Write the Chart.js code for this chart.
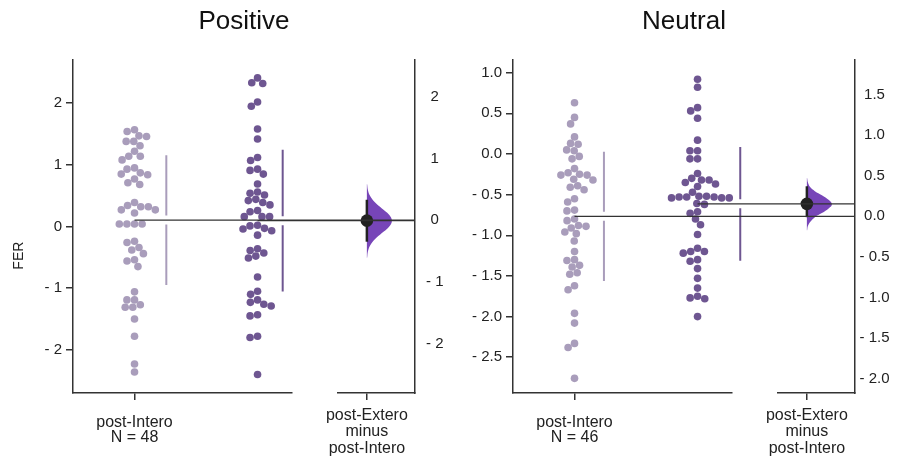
<!DOCTYPE html>
<html>
<head>
<meta charset="utf-8">
<script src="https://cdn.jsdelivr.net/npm/chart.js@4.4.1/dist/chart.umd.min.js"></script>
<style>
  body { margin: 0; background: #fff; }
  #wrap { position: relative; width: 901px; height: 456px; }
  canvas { position: absolute; top: 0; }
</style>
</head>
<body>
<div id="wrap">
  <canvas id="pos" width="450" height="456" style="left:0"></canvas>
  <canvas id="neu" width="451" height="456" style="left:450px"></canvas>
</div>
<script>
// ---- data ----
var groups = ['post-Intero', 'post-Extero'];
var titles = ['Positive', 'Neutral'];
var yTitle = 'FER';

var posIntero = [1.57, 1.54, 1.47, 1.46, 1.38, 1.38, 1.31, 1.22, 1.14, 1.14, 1.08, 0.95, 0.93, 0.87, 0.85, 0.84, 0.77, 0.71, 0.68,
  0.39, 0.34, 0.32, 0.32, 0.27, 0.27, 0.22, 0.04, 0.04, 0.04, 0.04,
  -0.24, -0.26, -0.34, -0.38, -0.44, -0.54, -0.56, -0.65,
  -1.06, -1.19, -1.19, -1.27, -1.31, -1.31, -1.50, -1.78, -2.23, -2.36];
var posExtero = [2.41, 2.33, 2.32, 2.02, 1.95, 1.58, 1.42, 1.12, 1.07, 0.93, 0.91, 0.85, 0.69,
  0.56, 0.54, 0.51, 0.44, 0.42, 0.39, 0.35, 0.26, 0.24, 0.16, 0.16, 0.16,
  0.02, 0.01, -0.03, -0.04, -0.07, -0.14,
  -0.36, -0.39, -0.43, -0.48, -0.51, -0.82,
  -1.05, -1.10, -1.19, -1.23, -1.26, -1.29, -1.43, -1.45, -1.78, -1.80, -2.40];
var neuIntero = [0.63, 0.45, 0.37, 0.21, 0.13, 0.12, 0.05, 0.04, -0.03, -0.06,
  -0.18, -0.23, -0.25, -0.26, -0.26, -0.31, -0.32, -0.39, -0.41, -0.44,
  -0.55, -0.59, -0.69, -0.70, -0.80, -0.82, -0.88, -0.89, -0.91, -0.96, -0.98, -1.07,
  -1.20, -1.30, -1.31, -1.37, -1.39, -1.46, -1.48, -1.62, -1.67,
  -1.96, -2.08, -2.33, -2.38, -2.76];
var neuExtero = [0.92, 0.82, 0.57, 0.53, 0.44, 0.17, 0.04, 0.04, -0.06, -0.06,
  -0.24, -0.30, -0.32, -0.32, -0.35, -0.37, -0.40, -0.47,
  -0.52, -0.52, -0.53, -0.53, -0.53, -0.54, -0.54, -0.54, -0.61, -0.62,
  -0.71, -0.73, -0.80, -0.87, -0.99,
  -1.16, -1.20, -1.20, -1.22, -1.30, -1.32, -1.41, -1.53, -1.65,
  -1.75, -1.77, -1.78, -2.00];

// axis ranges and tick values
var posRange = [-2.7, 2.7];
var neuRange = [-2.94, 1.156];
var posTicks = [-2, -1, 0, 1, 2];
var posDeltaTicks = [-2, -1, 0, 1, 2];
var neuTicks = [-2.5, -2.0, -1.5, -1.0, -0.5, 0.0, 0.5, 1.0];
var neuDeltaTicks = [-2.0, -1.5, -1.0, -0.5, 0.0, 0.5, 1.0, 1.5];

// bootstrap difference: 95% CI and the half-violin outline (difference, relative density)
var posDeltaCI = [-0.35, 0.33];
var neuDeltaCI = [-0.01, 0.37];
var posViolinY = [-0.61, -0.51, -0.41, -0.31, -0.21, -0.11, -0.01, 0.09, 0.19, 0.29, 0.39, 0.49, 0.58];
var neuViolinY = [-0.17, -0.12, -0.07, -0.01, 0.04, 0.10, 0.15, 0.20, 0.26, 0.31, 0.36, 0.42, 0.47];
var violinDensity = [0.01, 0.04, 0.13, 0.32, 0.60, 0.88, 1.00, 0.88, 0.60, 0.32, 0.13, 0.04, 0.01];

// ---- style ----
Chart.defaults.font.family = "'Liberation Sans', Arial, Helvetica, sans-serif";
Chart.defaults.color = '#222';
var lightCol = '#a99dbb';
var darkCol = '#6e5691';
var violinCol = '#7745b8';
var axisCol = '#333';
var dotR = 3.8;

function mean(a) { return a.reduce(function (s, v) { return s + v; }, 0) / a.length; }
function sd(a) {
  var m = mean(a);
  return Math.sqrt(a.reduce(function (s, v) { return s + (v - m) * (v - m); }, 0) / (a.length - 1));
}
function fmt(v, dec) {
  var t = Math.abs(v).toFixed(dec);
  return v < -1e-9 ? '- ' + t : t;
}

// swarm layout in pixels: each point goes to the free spot closest to the centre line
function beeswarm(py, d) {
  var order = py.map(function (v, i) { return i; }).sort(function (a, b) { return py[a] - py[b]; });
  var placed = [], xs = [];
  order.forEach(function (i) {
    var y = py[i];
    var near = placed.filter(function (p) { return Math.abs(p.y - y) < d; });
    var cands = [0];
    near.forEach(function (p) {
      var dx = Math.sqrt(d * d - (p.y - y) * (p.y - y));
      cands.push(p.x - dx, p.x + dx);
    });
    cands.sort(function (a, b) { return Math.abs(a) - Math.abs(b); });
    var best = 0;
    for (var k = 0; k < cands.length; k++) {
      var c = cands[k];
      var ok = near.every(function (p) { return (p.x - c) * (p.x - c) + (p.y - y) * (p.y - y) >= d * d - 0.01; });
      if (ok) { best = c; break; }
    }
    xs[i] = best;
    placed.push({ x: best, y: y });
  });
  return xs;
}

// keep the boxes exactly where the reference has them
function fixH(s) { s.height = 63; s.paddingLeft = 0; s.paddingRight = 0; }

function makePanel(id, p) {
  var mI = mean(p.intero), mE = mean(p.extero);
  var sI = sd(p.intero), sE = sd(p.extero);
  var diff = mE - mI;
  var dec = p.dec;

  var violin = [{ x: 0, y: p.violinY[0] }];
  p.violinY.forEach(function (y, i) { violin.push({ x: violinDensity[i] * 0.52, y: y }); });
  violin.push({ x: 0, y: p.violinY[p.violinY.length - 1] });

  var lineDs = function (col, w, order) {
    return { type: 'line', data: [], borderColor: col, borderWidth: w, pointRadius: 0, fill: false,
      order: order, spanGaps: false, clip: false };
  };

  var datasets = [
    { type: 'scatter', data: p.intero.map(function (v) { return { x: 0, y: v }; }), backgroundColor: lightCol, pointRadius: dotR, borderWidth: 0, order: 3 },
    { type: 'scatter', data: p.extero.map(function (v) { return { x: 1, y: v }; }), backgroundColor: darkCol, pointRadius: dotR, borderWidth: 0, order: 3 },
    lineDs(lightCol, 2, 3),
    lineDs(darkCol, 2, 3),
    lineDs(axisCol, 1.2, 0),
    lineDs(axisCol, 1.2, 0),
    { type: 'line', xAxisID: 'xd', yAxisID: 'yd', data: violin, borderWidth: 0, pointRadius: 0,
      backgroundColor: violinCol, fill: 'shape', tension: 0.4, order: 2 },
    { type: 'line', xAxisID: 'xd', yAxisID: 'yd', data: [{ x: 0, y: p.ci[0] }, { x: 0, y: p.ci[1] }],
      borderColor: '#222', borderWidth: 2.5, pointRadius: 0, order: 1 },
    { type: 'scatter', xAxisID: 'xd', yAxisID: 'yd', data: [{ x: 0, y: diff }],
      backgroundColor: '#222', pointRadius: 6.3, borderWidth: 0, order: 0 }
  ];

  var tickFont = { size: 15 };
  var chart = new Chart(document.getElementById(id), {
    type: 'scatter',
    data: { datasets: datasets },
    options: {
      responsive: false,
      animation: false,
      events: [],
      layout: { padding: 0 },
      plugins: {
        legend: { display: false },
        tooltip: { enabled: false },
        title: {
          display: true, text: p.title, fullSize: false, color: '#111',
          font: { size: 26, weight: 'normal' }, padding: { top: 6, bottom: 22.8 }
        }
      },
      scales: {
        x: {
          type: 'linear', position: 'bottom', stack: 'b', stackWeight: 219, bounds: 'data',
          // bounds set here rather than min/max so lines right of the swarm are not culled
          afterDataLimits: function (s) { s.min = -0.5; s.max = 1.28; },
          afterFit: fixH,
          afterBuildTicks: function (s) { s.ticks = [{ value: 0 }, { value: 1 }]; },
          grid: { drawOnChartArea: false, tickLength: 7, color: axisCol, lineWidth: 1.5 },
          border: { color: axisCol, width: 1.5 },
          ticks: {
            maxRotation: 0, padding: 15, font: { size: 16, lineHeight: 0.95 }, color: '#222',
            callback: function (v) {
              var g = Math.round(v);
              return [groups[g], 'N = ' + (g === 0 ? p.intero.length : p.extero.length)];
            }
          }
        },
        xg: {
          type: 'linear', position: 'bottom', stack: 'b', stackWeight: 46, min: 0, max: 1,
          afterFit: fixH,
          grid: { display: false }, border: { display: false }, ticks: { display: false }
        },
        xd: {
          type: 'linear', position: 'bottom', stack: 'b', stackWeight: 77, min: -0.6, max: 1.0,
          afterFit: fixH,
          afterBuildTicks: function (s) { s.ticks = [{ value: 0 }]; },
          grid: { drawOnChartArea: false, tickLength: 7, color: axisCol, lineWidth: 1.5 },
          border: { color: axisCol, width: 1.5 },
          ticks: {
            maxRotation: 0, padding: 7, font: { size: 16, lineHeight: 1.03 }, color: '#222',
            callback: function () { return [groups[1], 'minus', groups[0]]; }
          }
        },
        y: {
          type: 'linear', position: 'left', min: p.range[0], max: p.range[1],
          afterFit: function (s) { s.width = p.leftW; s.paddingTop = 0; s.paddingBottom = 0; },
          afterBuildTicks: function (s) { s.ticks = p.ticks.map(function (v) { return { value: v }; }); },
          grid: { drawOnChartArea: false, tickLength: 7, color: axisCol, lineWidth: 1.5 },
          border: { color: axisCol, width: 1.5 },
          // trailing spaces push the rotated label a little below the axis middle, as in the reference
          title: { display: p.showTitle, text: yTitle + '               ', font: { size: 14 }, color: '#222', padding: { top: 11 } },
          ticks: { padding: 4, font: tickFont, color: '#222', callback: function (v) { return fmt(v, dec); } }
        },
        yd: {
          type: 'linear', position: 'right', min: p.range[0] - mI, max: p.range[1] - mI,
          afterFit: function (s) { s.width = p.rightW; s.paddingTop = 0; s.paddingBottom = 0; },
          afterBuildTicks: function (s) { s.ticks = p.deltaTicks.map(function (v) { return { value: v }; }); },
          grid: { display: false, drawTicks: false },
          border: { color: axisCol, width: 1.5 },
          ticks: { padding: p.rightPad, crossAlign: 'center', font: tickFont, color: '#222',
            callback: function (v) { return fmt(v, dec); } }
        }
      }
    }
  });

  // second pass: swarm offsets, SD bars and mean lines in pixel terms of the real scales
  var xs = chart.scales.x, ys = chart.scales.y;
  var unit = xs.getPixelForValue(1) - xs.getPixelForValue(0);
  var yUnit = ys.getPixelForValue(0) - ys.getPixelForValue(1);
  var xEnd = xs.getValueForPixel(chart.chartArea.right);
  [[p.intero, mI, sI], [p.extero, mE, sE]].forEach(function (gr, g) {
    var off = beeswarm(gr[0].map(function (v) { return ys.getPixelForValue(v); }), 2 * dotR);
    chart.data.datasets[g].data = gr[0].map(function (v, i) { return { x: g + off[i] / unit, y: v }; });
    var sdX = g + (Math.max.apply(null, off) + 11) / unit;
    var gap = 4.5 / yUnit;
    chart.data.datasets[2 + g].data = [
      { x: sdX, y: gr[1] + gr[2] }, { x: sdX, y: gr[1] + gap }, { x: sdX, y: null },
      { x: sdX, y: gr[1] - gap }, { x: sdX, y: gr[1] - gr[2] }];
    chart.data.datasets[4 + g].data = [{ x: g, y: gr[1] }, { x: xEnd, y: gr[1] }];
  });
  chart.update('none');
  return chart;
}

makePanel('pos', {
  title: titles[0], intero: posIntero, extero: posExtero, range: posRange, ticks: posTicks,
  deltaTicks: posDeltaTicks, ci: posDeltaCI, violinY: posViolinY, dec: 0,
  leftW: 73, rightW: 35, rightPad: 11, showTitle: true
});
makePanel('neu', {
  title: titles[1], intero: neuIntero, extero: neuExtero, range: neuRange, ticks: neuTicks,
  deltaTicks: neuDeltaTicks, ci: neuDeltaCI, violinY: neuViolinY, dec: 1,
  leftW: 63, rightW: 46, rightPad: 4.5, showTitle: false
});
</script>
</body>
</html>
